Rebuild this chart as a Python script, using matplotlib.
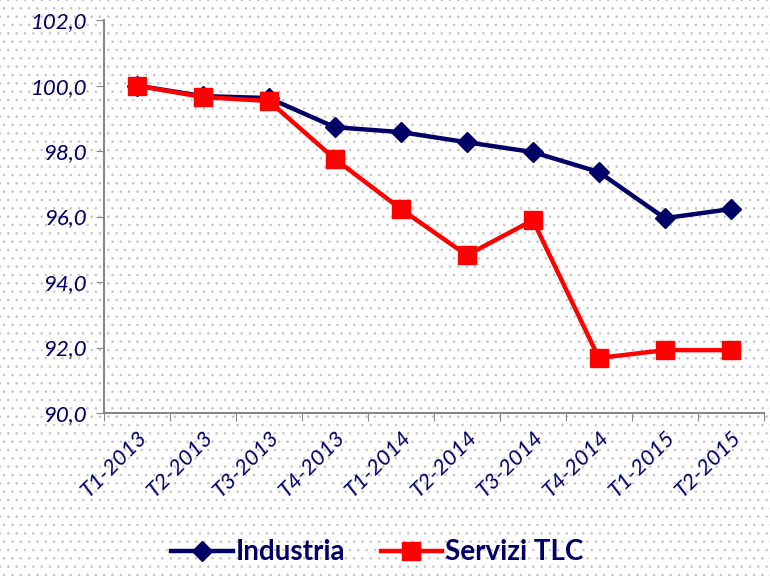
import matplotlib.pyplot as plt
from matplotlib.patches import Rectangle
import matplotlib as mpl

quarters = ["T1-2013", "T2-2013", "T3-2013", "T4-2013", "T1-2014",
            "T2-2014", "T3-2014", "T4-2014", "T1-2015", "T2-2015"]
industria = [100.0, 99.68, 99.62, 98.73, 98.58, 98.27, 97.97, 97.36, 95.95, 96.23]
servizi_tlc = [100.0, 99.65, 99.53, 97.76, 96.23, 94.82, 95.89, 91.68, 91.92, 91.92]

navy = "#000066"
plt.rcParams['font.family'] = ['Lato', 'DejaVu Sans']
mpl.rcParams['hatch.color'] = '#c4c4c4'
mpl.rcParams['hatch.linewidth'] = 0.6

fig = plt.figure(figsize=(7.7, 5.76), dpi=100)
# dotted background
bg = Rectangle((0, 0), 1, 1, transform=fig.transFigure, facecolor='white',
               edgecolor='#c4c4c4', hatch='..', linewidth=0, zorder=-10)
fig.patches.append(bg)

ax = fig.add_axes([0.135, 0.283, 0.857, 0.682])
ax.patch.set_alpha(0)

x = range(len(quarters))
ax.plot(x, industria, color=navy, lw=3.2, marker='D', ms=10, label='Industria')
ax.plot(x, servizi_tlc, color='#ff0000', lw=3.2, marker='s', ms=13, label='Servizi TLC')

ax.set_xlim(-0.5, len(quarters) - 0.5)
ax.set_ylim(90, 102)
ax.set_yticks([90, 92, 94, 96, 98, 100, 102])
ax.set_yticklabels([f"{v:.1f}".replace('.', ',') for v in [90, 92, 94, 96, 98, 100, 102]],
                   fontsize=16, style='italic', color=navy)
ax.set_xticks([i - 0.5 for i in range(len(quarters) + 1)], minor=False)
ax.set_xticklabels([])
ax.set_xticks(list(x), minor=True)
ax.set_xticklabels(quarters, minor=True, rotation=45, ha='right', va='top',
                   rotation_mode='anchor', fontsize=16, style='italic', color=navy)
ax.tick_params(axis='x', which='minor', length=0, pad=10)
ax.tick_params(axis='x', which='major', length=6, color='#888888', direction='out')
ax.tick_params(axis='y', length=6, color='#888888', direction='out', pad=6)

for s in ['top', 'right']:
    ax.spines[s].set_visible(False)
for s in ['left', 'bottom']:
    ax.spines[s].set_color('#888888')
    ax.spines[s].set_linewidth(1.5)

leg = fig.legend(loc='lower center', bbox_to_anchor=(0.49, -0.025), ncol=2, frameon=False,
                 prop={'size': 20, 'weight': 'bold'}, handlelength=2.2,
                 columnspacing=1.3, handletextpad=0.1)
for t in leg.get_texts():
    t.set_color(navy)

fig.savefig("out.png", dpi=100)
